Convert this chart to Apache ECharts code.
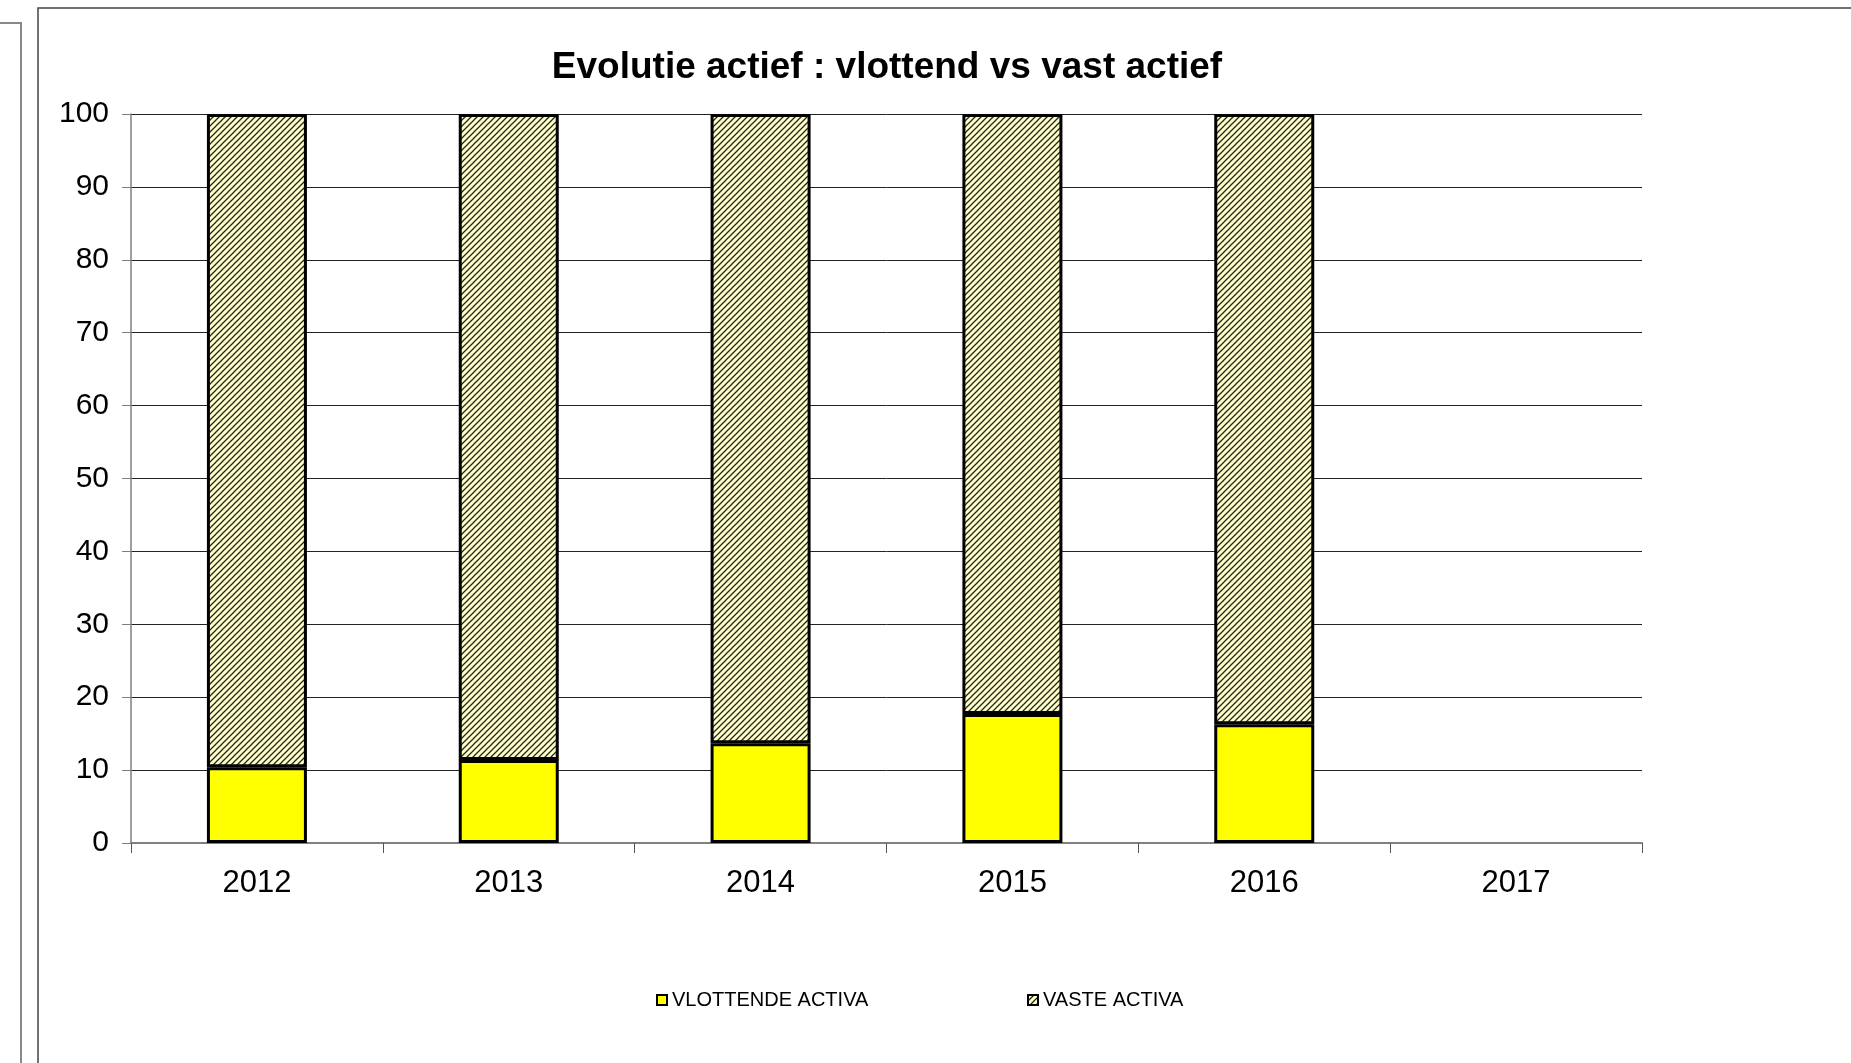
<!DOCTYPE html>
<html>
<head>
<meta charset="utf-8">
<script src="https://cdn.jsdelivr.net/npm/echarts@6/dist/echarts.min.js"></script>
<style>
html,body{margin:0;padding:0;background:#fff;}
#chart{width:1851px;height:1063px;}
</style>
</head>
<body>
<div id="chart"></div>
<script>
const titleText = 'Evolutie actief : vlottend vs vast actief';
const years = ['2012', '2013', '2014', '2015', '2016', '2017'];
const seriesNames = ['VLOTTENDE ACTIVA', 'VASTE ACTIVA'];
const vlottendeActiva = [10.4, 11.4, 13.7, 17.7, 16.3, null];
const vasteActiva = [89.6, 88.6, 86.3, 82.3, 83.7, null];
const yMin = 0, yMax = 100, yStep = 10;

// hatch pattern (light yellow with dark upward diagonal dotted lines)
function makeHatch() {
  const s = 6;
  const c = document.createElement('canvas');
  c.width = s; c.height = s;
  const g = c.getContext('2d');
  g.fillStyle = '#FFFFC8';
  g.fillRect(0, 0, s, s);
  g.strokeStyle = '#222';
  g.lineWidth = 1.25;
  g.beginPath();
  g.moveTo(-1, s + 1); g.lineTo(s + 1, -1);
  g.moveTo(-1, 1); g.lineTo(1, -1);
  g.moveTo(s - 1, s + 1); g.lineTo(s + 1, s - 1);
  g.stroke();
  return c;
}
const hatch = { image: makeHatch(), repeat: 'repeat' };

const chart = echarts.init(document.getElementById('chart'));
const fontFam = 'Liberation Sans, Arial, sans-serif';

chart.setOption({
  backgroundColor: '#fff',
  animation: false,
  title: {
    text: titleText,
    left: 887,
    top: 49,
    padding: 0,
    textAlign: 'center',
    textStyle: { fontFamily: fontFam, fontSize: 37, fontWeight: 'bold', color: '#000' }
  },
  graphic: [
    { type: 'rect', shape: { x: -5, y: 23, width: 26, height: 1100 }, style: { fill: 'none', stroke: '#888', lineWidth: 2 } },
    { type: 'rect', shape: { x: 38, y: 8, width: 2000, height: 1100 }, style: { fill: 'none', stroke: '#444', lineWidth: 1.5 } }
  ],
  legend: [
    {
      data: [seriesNames[0]], left: 656, top: 990, icon: 'rect', itemWidth: 10, itemHeight: 10, itemGap: 0, padding: 0,
      textStyle: { fontFamily: fontFam, fontSize: 20, color: '#000', lineHeight: 20 }
    },
    {
      data: [seriesNames[1]], left: 1027, top: 990, icon: 'rect', itemWidth: 10, itemHeight: 10, itemGap: 0, padding: 0,
      textStyle: { fontFamily: fontFam, fontSize: 20, color: '#000', lineHeight: 20 }
    }
  ],
  grid: { left: 131, right: 209, top: 114, bottom: 220, containLabel: false },
  xAxis: {
    type: 'category',
    data: years,
    boundaryGap: true,
    axisLine: { show: true, lineStyle: { color: '#808080', width: 2 } },
    axisTick: { show: true, interval: 0, length: 10, lineStyle: { color: '#555', width: 1 } },
    axisLabel: { fontFamily: fontFam, fontSize: 31, color: '#000', margin: 25, interval: 0 },
    splitLine: { show: false }
  },
  yAxis: {
    type: 'value',
    min: yMin, max: yMax, interval: yStep,
    axisLine: { show: true, lineStyle: { color: '#808080', width: 1.5 } },
    axisTick: { show: true, length: 9, lineStyle: { color: '#808080', width: 1 } },
    axisLabel: { fontFamily: fontFam, fontSize: 30, color: '#000', margin: 22 },
    splitLine: { show: true, lineStyle: { color: '#222', width: 1 } }
  },
  series: [
    {
      name: seriesNames[0], type: 'bar', stack: 'total', data: vlottendeActiva, barWidth: 100,
      itemStyle: { color: '#FFFF00', borderColor: '#000', borderWidth: 3 }
    },
    {
      name: seriesNames[1], type: 'bar', stack: 'total', data: vasteActiva, barWidth: 100,
      itemStyle: { color: hatch, borderColor: '#000', borderWidth: 3 }
    }
  ]
});
</script>
</body>
</html>
